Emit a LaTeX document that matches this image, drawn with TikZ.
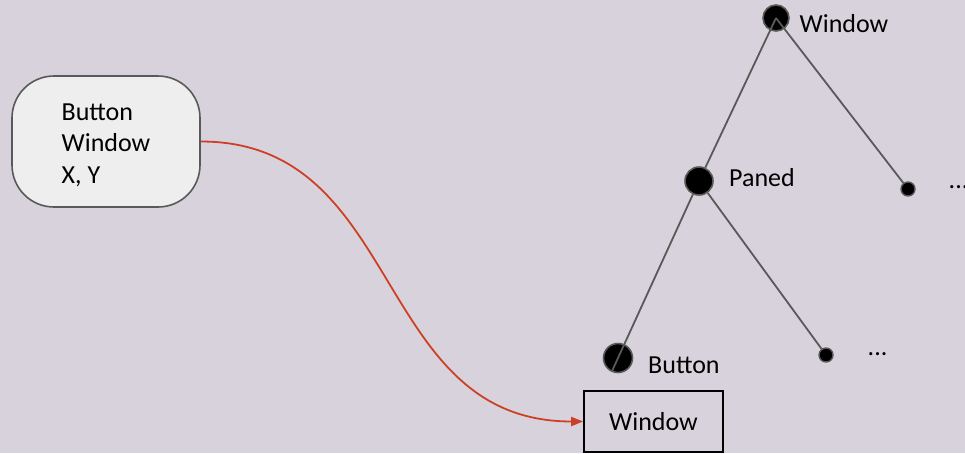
\documentclass[tikz,border=0pt]{standalone}
\usepackage{fontspec}
\setmainfont{Carlito}
\usetikzlibrary{arrows.meta,calc}
\definecolor{bgcol}{RGB}{216,210,220}
\definecolor{boxfill}{RGB}{238,238,238}
\definecolor{edgegray}{RGB}{89,89,89}
\definecolor{arrowred}{RGB}{204,65,37}
\begin{document}
\begin{tikzpicture}[x=1pt,y=-1pt,
  lbl/.style={font=\fontsize{26}{31.5}\selectfont, inner sep=0pt, anchor=base west},
  srcbox/.style={draw=edgegray, line width=1.6pt, fill=boxfill, rounded corners=42pt,
    minimum width=188pt, minimum height=131pt, align=left, inner sep=0pt,
    font=\fontsize{26}{31.5}\selectfont},
  winbox/.style={draw=black, line width=1.6pt, minimum width=139pt, minimum height=61pt,
    inner sep=0pt, font=\fontsize{26}{31.5}\selectfont},
  bignode/.style={circle, fill=black, draw=edgegray, line width=1.6pt, inner sep=0pt},
  smalldot/.style={circle, fill=black, draw=edgegray, line width=1.4pt, minimum size=14pt, inner sep=0pt},
  treeedge/.style={draw=edgegray, line width=1.8pt},
  link/.style={draw=arrowred, line width=1.8pt, -{Triangle[length=12pt,width=9pt]}}]
\fill[bgcol] (0,0) rectangle (965,453);
\useasboundingbox (0,0) rectangle (965,453);

% left box and target box
\node[srcbox] (src) at (106,141.5) {\rule{0pt}{23.4pt}Button\\Window\\X, Y};
\node[winbox] (win) at (653.5,421.5) {Window};

% tree nodes
\node[bignode, minimum size=26pt] (nwin) at (776,18) {};
\node[bignode, minimum size=28pt] (npaned) at (699,181) {};
\node[bignode, minimum size=29pt] (nbutton) at (618,358) {};
\node[smalldot] (dotA) at (908,189) {};
\node[smalldot] (dotB) at (826,355) {};

% tree labels
\node[lbl] (lwin) at (799.5,32) {Window};
\node[lbl] (lpaned) at (729,186) {Paned};
\node[lbl] (lbutton) at (648,373) {Button};
\node[lbl] (ldotsA) at (948.5,188) {...};
\node[lbl] (ldotsB) at (867.5,355) {...};

% tree edges
\draw[treeedge] (nwin.center) -- (npaned);
\draw[treeedge] (nwin.center) -- (dotA);
\draw[treeedge] (npaned) -- ($(npaned.center)!1.075!(nbutton.center)$);
\draw[treeedge] (npaned) -- (dotB);

% red connector
\draw[link] (src.east) .. controls (405,141.5) and (372,421.5) .. (win.west);
\end{tikzpicture}
\end{document}
